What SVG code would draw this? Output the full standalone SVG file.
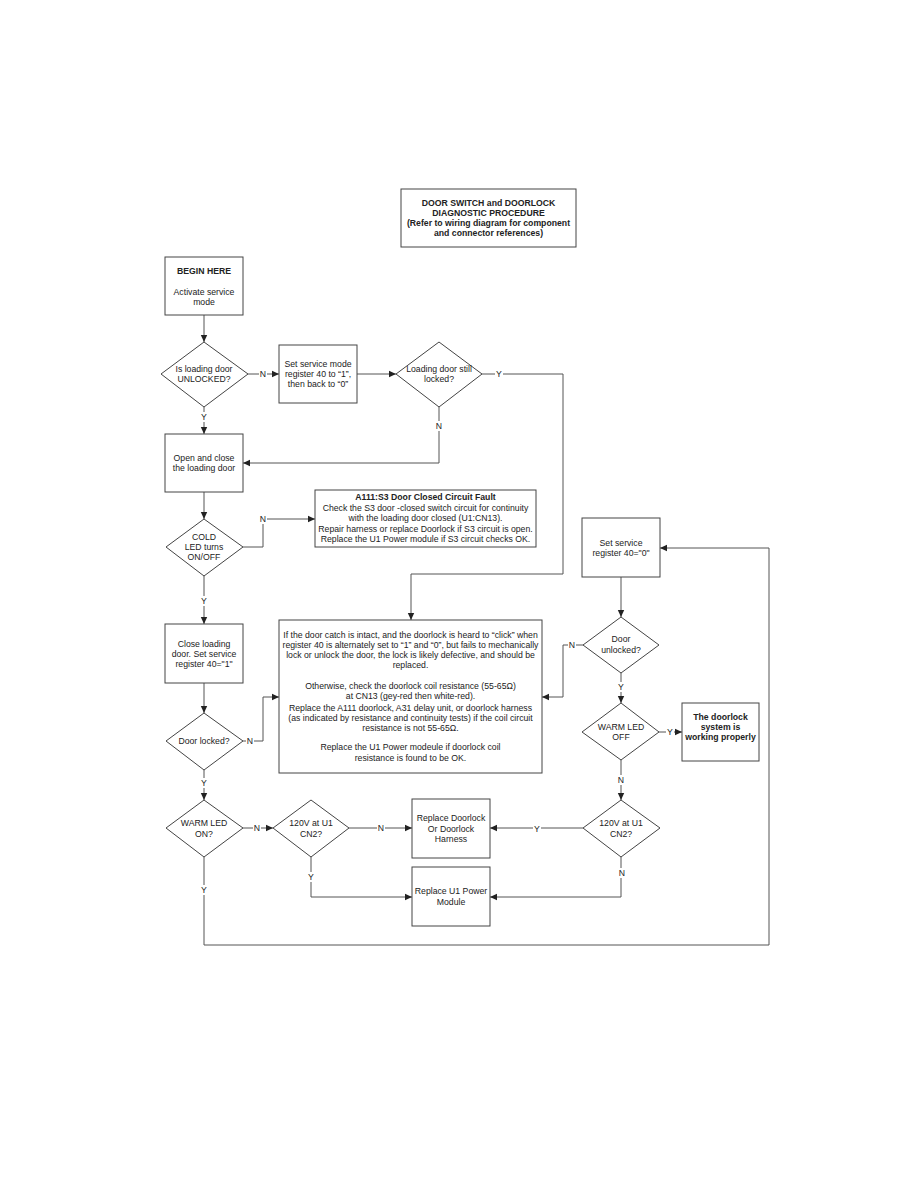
<svg xmlns="http://www.w3.org/2000/svg" width="918" height="1188" viewBox="0 0 918 1188">
<defs>
<marker id="arr" markerUnits="userSpaceOnUse" markerWidth="8" markerHeight="8" viewBox="0 0 8 8" refX="7" refY="4" orient="auto">
<path d="M0,0.8 L7,4 L0,7.2 Z" fill="#222"/>
</marker>
<style>
.b{fill:#fff;stroke:#444;stroke-width:1}
.t{font-family:"Liberation Sans",Arial,sans-serif;font-size:8.7px;fill:#222;text-anchor:middle}
.bold{font-weight:bold}
.c{fill:none;stroke:#555;stroke-width:1}
.a{marker-end:url(#arr)}
.bg{fill:#fff}
</style>
</defs>
<rect width="918" height="1188" fill="#fff"/>

<g id="connectors">
<path class="c a" d="M204,315 V342"/>
<path class="c a" d="M248,374 H279"/>
<path class="c a" d="M357,374 H396"/>
<path class="c a" d="M482,374 H563 V574 H411 V620"/>
<path class="c a" d="M439,407 V463 H243"/>
<path class="c a" d="M204,407 V434"/>
<path class="c a" d="M204,492 V519"/>
<path class="c a" d="M243,547 H263 V519 H315"/>
<path class="c a" d="M204,576 V624"/>
<path class="c a" d="M204,683 V713"/>
<path class="c a" d="M243,741 H263 V697 H279"/>
<path class="c a" d="M204,770 V800"/>
<path class="c a" d="M243,828 H273"/>
<path class="c a" d="M349,828 H412"/>
<path class="c a" d="M311,857 V897 H412"/>
<path class="c a" d="M204,857 V945 H769 V548 H660"/>
<path class="c a" d="M621,577 V617"/>
<path class="c a" d="M583,645 H563 V697 H542"/>
<path class="c a" d="M621,673 V703"/>
<path class="c a" d="M659,732 H682"/>
<path class="c a" d="M621,760 V800"/>
<path class="c a" d="M583,828 H490"/>
<path class="c a" d="M621,857 V897 H490"/>
<g class="bg">
<rect x="259" y="369" width="8" height="10"/>
<rect x="495" y="369" width="8" height="10"/>
<rect x="435" y="421" width="8" height="10"/>
<rect x="200" y="412" width="8" height="10"/>
<rect x="259" y="514" width="8" height="10"/>
<rect x="200" y="596" width="8" height="10"/>
<rect x="246" y="736" width="8" height="10"/>
<rect x="200" y="778" width="8" height="10"/>
<rect x="253" y="823" width="8" height="10"/>
<rect x="377" y="823" width="8" height="10"/>
<rect x="307" y="872" width="8" height="10"/>
<rect x="200" y="885" width="8" height="10"/>
<rect x="568" y="640" width="8" height="10"/>
<rect x="617" y="682" width="8" height="10"/>
<rect x="666" y="727" width="8" height="10"/>
<rect x="617" y="775" width="8" height="10"/>
<rect x="533" y="824" width="8" height="10"/>
<rect x="618" y="868" width="8" height="10"/>
</g>
<text class="t" x="263" y="377">N</text>
<text class="t" x="499" y="377">Y</text>
<text class="t" x="439" y="429">N</text>
<text class="t" x="204" y="420">Y</text>
<text class="t" x="263" y="522">N</text>
<text class="t" x="204" y="604">Y</text>
<text class="t" x="250" y="744">N</text>
<text class="t" x="204" y="786">Y</text>
<text class="t" x="257" y="831">N</text>
<text class="t" x="381" y="831">N</text>
<text class="t" x="311" y="880">Y</text>
<text class="t" x="204" y="893">Y</text>
<text class="t" x="572" y="648">N</text>
<text class="t" x="621" y="690">Y</text>
<text class="t" x="670" y="735">Y</text>
<text class="t" x="621" y="783">N</text>
<text class="t" x="537" y="832">Y</text>
<text class="t" x="622" y="876">N</text>
</g>

<g id="title">
<rect class="b" x="401" y="189" width="175" height="58"/>
<text class="t bold" x="488.5" y="206">DOOR SWITCH and DOORLOCK</text>
<text class="t bold" x="488.5" y="216">DIAGNOSTIC PROCEDURE</text>
<text class="t bold" x="488.5" y="226">(Refer to wiring diagram for component</text>
<text class="t bold" x="488.5" y="236">and connector references)</text>
</g>

<g id="begin">
<rect class="b" x="165" y="257" width="78" height="58"/>
<text class="t bold" x="204" y="274">BEGIN HERE</text>
<text class="t" x="204" y="295">Activate service</text>
<text class="t" x="204" y="305">mode</text>
</g>

<g id="d-unlocked">
<path class="b" d="M204,342 L248,374 L204,407 L161,374 Z"/>
<text class="t" x="204" y="372">Is loading door</text>
<text class="t" x="204" y="382">UNLOCKED?</text>
</g>

<g id="set-40-1-0">
<rect class="b" x="279" y="345" width="78" height="58"/>
<text class="t" x="318" y="367">Set service mode</text>
<text class="t" x="318" y="377">register 40 to “1”,</text>
<text class="t" x="318" y="387">then back to “0”</text>
</g>

<g id="d-still-locked">
<path class="b" d="M439,342 L482,374 L439,407 L396,374 Z"/>
<text class="t" x="439" y="372">Loading door still</text>
<text class="t" x="439" y="382">locked?</text>
</g>

<g id="open-close">
<rect class="b" x="165" y="434" width="78" height="58"/>
<text class="t" x="204" y="461">Open and close</text>
<text class="t" x="204" y="471">the loading door</text>
</g>

<g id="d-cold-led">
<path class="b" d="M204,519 L243,547 L204,576 L166,547 Z"/>
<text class="t" x="204" y="540">COLD</text>
<text class="t" x="204" y="550">LED turns</text>
<text class="t" x="204" y="560">ON/OFF</text>
</g>

<g id="a111-fault">
<rect class="b" x="315" y="490" width="221" height="57"/>
<text class="t bold" x="425.5" y="500">A111:S3 Door Closed Circuit Fault</text>
<text class="t" x="425.5" y="511">Check the S3 door -closed switch circuit for continuity</text>
<text class="t" x="425.5" y="521">with the loading door closed (U1:CN13).</text>
<text class="t" x="425.5" y="532">Repair harness or replace Doorlock if S3 circuit is open.</text>
<text class="t" x="425.5" y="542">Replace the U1 Power module if S3 circuit checks OK.</text>
</g>

<g id="close-set-40-1">
<rect class="b" x="165" y="624" width="78" height="59"/>
<text class="t" x="204" y="647">Close loading</text>
<text class="t" x="204" y="657">door. Set service</text>
<text class="t" x="204" y="667">register 40="1"</text>
</g>

<g id="d-door-locked">
<path class="b" d="M204,713 L243,741 L204,770 L166,741 Z"/>
<text class="t" x="204" y="744">Door locked?</text>
</g>

<g id="info-box">
<rect class="b" x="279" y="620" width="263" height="153"/>
<text class="t" x="410.5" y="638">If the door catch is intact, and the doorlock is heard to “click” when</text>
<text class="t" x="410.5" y="648">register 40 is alternately set to “1” and “0”, but fails to mechanically</text>
<text class="t" x="410.5" y="658">lock or unlock the door, the lock is likely defective, and should be</text>
<text class="t" x="410.5" y="668">replaced.</text>
<text class="t" x="410.5" y="689">Otherwise, check the doorlock coil resistance (55-65Ω)</text>
<text class="t" x="410.5" y="699">at CN13 (gey-red then white-red).</text>
<text class="t" x="410.5" y="711">Replace the A111 doorlock, A31 delay unit, or doorlock harness</text>
<text class="t" x="410.5" y="721">(as indicated by resistance and continuity tests) if the coil circuit</text>
<text class="t" x="410.5" y="731">resistance is not 55-65Ω.</text>
<text class="t" x="410.5" y="750">Replace the U1 Power modeule if doorlock coil</text>
<text class="t" x="410.5" y="761">resistance is found to be OK.</text>
</g>

<g id="set-40-0">
<rect class="b" x="582" y="518" width="78" height="59"/>
<text class="t" x="621" y="546">Set service</text>
<text class="t" x="621" y="556">register 40="0"</text>
</g>

<g id="d-door-unlocked">
<path class="b" d="M621,617 L659,645 L621,673 L583,645 Z"/>
<text class="t" x="621" y="642">Door</text>
<text class="t" x="621" y="653">unlocked?</text>
</g>

<g id="d-warm-off">
<path class="b" d="M621,703 L659,732 L621,760 L582,732 Z"/>
<text class="t" x="621" y="730">WARM LED</text>
<text class="t" x="621" y="740">OFF</text>
</g>

<g id="working">
<rect class="b" x="682" y="703" width="77" height="58"/>
<text class="t bold" x="720.5" y="720">The doorlock</text>
<text class="t bold" x="720.5" y="730">system is</text>
<text class="t bold" x="720.5" y="740">working properly</text>
</g>

<g id="d-warm-on">
<path class="b" d="M204,800 L243,828 L204,857 L166,828 Z"/>
<text class="t" x="204" y="826">WARM LED</text>
<text class="t" x="204" y="837">ON?</text>
</g>

<g id="d-120v-left">
<path class="b" d="M311,800 L349,828 L311,857 L273,828 Z"/>
<text class="t" x="311" y="826">120V at U1</text>
<text class="t" x="311" y="837">CN2?</text>
</g>

<g id="replace-doorlock">
<rect class="b" x="412" y="799" width="78" height="59"/>
<text class="t" x="451" y="821">Replace Doorlock</text>
<text class="t" x="451" y="832">Or Doorlock</text>
<text class="t" x="451" y="842">Harness</text>
</g>

<g id="replace-u1">
<rect class="b" x="412" y="867" width="78" height="59"/>
<text class="t" x="451" y="894">Replace U1 Power</text>
<text class="t" x="451" y="905">Module</text>
</g>

<g id="d-120v-right">
<path class="b" d="M621,800 L660,828 L621,857 L583,828 Z"/>
<text class="t" x="621" y="826">120V at U1</text>
<text class="t" x="621" y="837">CN2?</text>
</g>
</svg>
